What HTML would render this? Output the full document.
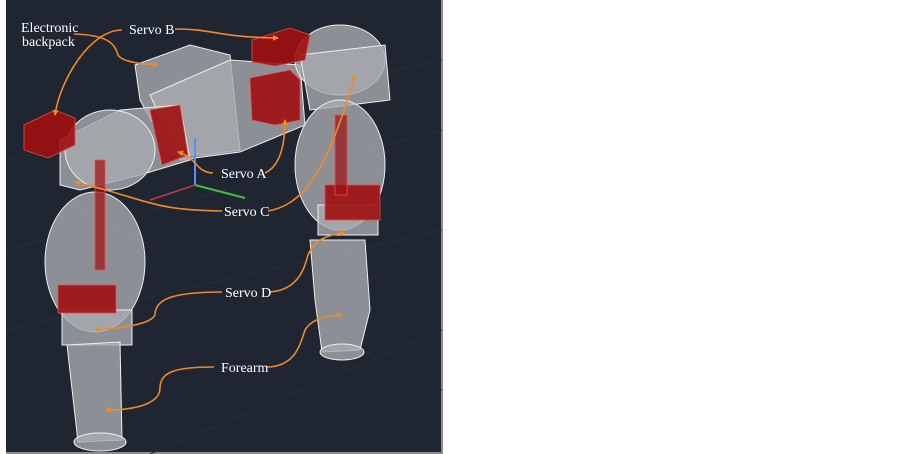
<!DOCTYPE html>
<html><head><meta charset="utf-8"><style>
html,body{margin:0;padding:0;background:#fff;width:902px;height:454px;overflow:hidden}
svg{display:block}
text{font-family:"Liberation Serif",serif;font-size:14px;fill:#fff}
</style></head><body>
<svg width="902" height="454" viewBox="0 0 902 454">
<defs><marker id="a" markerWidth="6" markerHeight="6" refX="5" refY="3" orient="auto" markerUnits="userSpaceOnUse"><path d="M0,0 L6,3 L0,6 z" fill="#f08a24"/></marker></defs>
<rect x="0" y="0" width="902" height="454" fill="#fff"/>
<rect x="6" y="0" width="436" height="453" fill="#1f2531"/>
<rect x="441" y="0" width="2" height="453" fill="#8a8d92"/>
<rect x="6" y="452" width="437" height="2" fill="#8a8d92"/>
<g stroke="#272d39" stroke-width="1" fill="none">
<path d="M6 250 L442 130"/><path d="M6 330 L442 230"/><path d="M150 454 L442 330"/><path d="M6 160 L442 60"/><path d="M60 200 L442 390"/>
</g>
<g stroke="#eeeef0" stroke-width="1" fill="#a8abb0" fill-opacity="0.8">
<polygon points="135,65 190,45 230,55 240,150 205,155 170,155 140,100"/>
<polygon points="150,95 230,60 300,65 305,125 240,152 180,160"/>
<polygon points="60,140 120,110 180,105 190,160 140,175 80,190 60,185"/>
<ellipse cx="110" cy="150" rx="45" ry="40"/>
<ellipse cx="340" cy="60" rx="45" ry="35"/>
<polygon points="300,55 385,45 390,100 310,110"/>
<ellipse cx="95" cy="262" rx="50" ry="70"/>
<rect x="62" y="310" width="70" height="35"/>
<polygon points="67,345 120,342 122,440 78,442"/>
<ellipse cx="100" cy="442" rx="26" ry="9"/>
<ellipse cx="340" cy="165" rx="45" ry="65"/>
<rect x="318" y="205" width="60" height="30"/>
<polygon points="310,240 365,240 370,310 360,350 322,352 315,300"/>
<ellipse cx="342" cy="352" rx="22" ry="8"/>
</g>
<g fill="#a00f10" stroke="#e05050" stroke-width="0.8" fill-opacity="0.9">
<polygon points="24,125 55,110 75,118 75,145 48,158 24,150"/>
<polygon points="252,40 290,28 310,35 305,60 275,66 252,62"/>
<polygon points="250,78 290,70 300,80 300,120 275,125 252,120"/>
<polygon points="150,110 180,105 188,155 162,165"/>
<rect x="58" y="285" width="58" height="28"/>
<rect x="325" y="185" width="55" height="35"/>
<rect x="95" y="160" width="10" height="110" fill-opacity="0.7"/>
<rect x="335" y="115" width="12" height="80" fill-opacity="0.7"/>
</g>
<g stroke="#5a8cff" stroke-width="2"><line x1="195" y1="185" x2="195" y2="138"/></g>
<g stroke="#3fbf3f" stroke-width="2"><line x1="195" y1="185" x2="245" y2="198"/></g>
<g stroke="#c0393b" stroke-width="1.5"><line x1="195" y1="185" x2="150" y2="200"/></g>
<g stroke="#f08a24" stroke-width="1.6" fill="none" marker-end="url(#a)">
<path d="M74 34 C110 35 115 45 118 55 C122 62 145 65 158 64"/>
<path d="M122 30 C90 30 60 80 55 115"/>
<path d="M175 29 C215 29 215 37 278 38"/>
<path d="M213 173 C195 172 198 158 178 152"/>
<path d="M265 173 C282 165 285 140 285 120"/>
<path d="M222 211 C150 210 150 200 75 182"/>
<path d="M268 211 C300 205 325 180 355 75"/>
<path d="M222 292 C170 292 155 300 155 315 C150 325 120 328 95 330"/>
<path d="M270 292 C300 290 305 265 308 255 C315 240 325 235 345 233"/>
<path d="M214 367 C175 367 160 372 160 388 C160 402 140 410 106 410"/>
<path d="M266 367 C295 367 300 345 305 330 C312 318 330 315 342 315"/>
</g>
<text x="21" y="32">Electronic</text>
<text x="22" y="46">backpack</text>
<text x="129" y="34">Servo B</text>
<text x="221" y="178">Servo A</text>
<text x="224" y="216">Servo C</text>
<text x="225" y="297">Servo D</text>
<text x="221" y="372">Forearm</text>
</svg>
</body></html>
